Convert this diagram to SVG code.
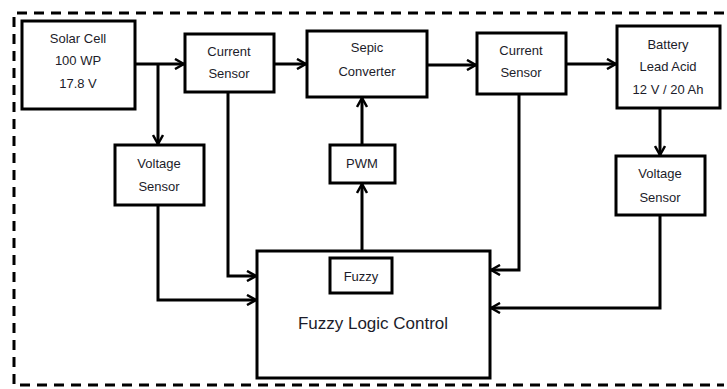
<svg xmlns="http://www.w3.org/2000/svg" width="727" height="389" viewBox="0 0 727 389">
  <defs>
    <style>
      .box { fill: #fff; stroke: #000; stroke-width: 3; }
      .lbl { font-family: "Liberation Sans", Arial, sans-serif; font-size: 13px; fill: #1c1c2a; text-anchor: middle; dominant-baseline: central; }
      .big { font-size: 17px; }
      .wire { fill: none; stroke: #000; stroke-width: 3; }
      .frame { fill: none; stroke: #000; stroke-width: 3; stroke-dasharray: 10 7; }
    </style>
    <marker id="arrow" viewBox="0 0 12 12" refX="11" refY="6" markerWidth="12" markerHeight="12" markerUnits="userSpaceOnUse" orient="auto">
      <path d="M2,1 L11,6 L2,11" fill="none" stroke="#000" stroke-width="2.5"/>
    </marker>
  </defs>

  <rect width="727" height="389" fill="#fff"/>

  <!-- dashed system boundary -->
  <path class="frame" d="M724,13 H14 V385 H724"/>

  <g id="connectors">
    <path class="wire" d="M135,64 H184" marker-end="url(#arrow)"/>
    <path class="wire" d="M158,64 V144" marker-end="url(#arrow)"/>
    <path class="wire" d="M274,64 H306" marker-end="url(#arrow)"/>
    <path class="wire" d="M427,65 H476" marker-end="url(#arrow)"/>
    <path class="wire" d="M566,64 H616" marker-end="url(#arrow)"/>
    <path class="wire" d="M660,108 V155" marker-end="url(#arrow)"/>
    <path class="wire" d="M228,92 V276 H256" marker-end="url(#arrow)"/>
    <path class="wire" d="M158,205 V300 H256" marker-end="url(#arrow)"/>
    <path class="wire" d="M519,94 V270 H491" marker-end="url(#arrow)"/>
    <path class="wire" d="M660,215 V308 H491" marker-end="url(#arrow)"/>
    <path class="wire" d="M362,251 V184" marker-end="url(#arrow)"/>
    <path class="wire" d="M362,145 V98" marker-end="url(#arrow)"/>
  </g>

  <g id="solar-cell">
    <rect class="box" x="22" y="21" width="113" height="88"/>
    <text class="lbl" x="78" y="38">Solar Cell</text>
    <text class="lbl" x="78" y="60">100 WP</text>
    <text class="lbl" x="78" y="83">17.8 V</text>
  </g>

  <g id="current-sensor-1">
    <rect class="box" x="185" y="34" width="89" height="58"/>
    <text class="lbl" x="229" y="51">Current</text>
    <text class="lbl" x="229" y="73">Sensor</text>
  </g>

  <g id="voltage-sensor-1">
    <rect class="box" x="115" y="145" width="89" height="60"/>
    <text class="lbl" x="159" y="163">Voltage</text>
    <text class="lbl" x="159" y="186">Sensor</text>
  </g>

  <g id="sepic-converter">
    <rect class="box" x="307" y="31" width="120" height="66"/>
    <text class="lbl" x="367" y="47">Sepic</text>
    <text class="lbl" x="367" y="71">Converter</text>
  </g>

  <g id="pwm">
    <rect class="box" x="330" y="145" width="65" height="38"/>
    <text class="lbl" x="362" y="163">PWM</text>
  </g>

  <g id="current-sensor-2">
    <rect class="box" x="477" y="33" width="89" height="61"/>
    <text class="lbl" x="521" y="50">Current</text>
    <text class="lbl" x="521" y="72">Sensor</text>
  </g>

  <g id="battery">
    <rect class="box" x="617" y="26" width="103" height="82"/>
    <text class="lbl" x="668" y="44">Battery</text>
    <text class="lbl" x="668" y="66">Lead Acid</text>
    <text class="lbl" x="668" y="89">12 V / 20 Ah</text>
  </g>

  <g id="voltage-sensor-2">
    <rect class="box" x="616" y="156" width="89" height="59"/>
    <text class="lbl" x="660" y="173">Voltage</text>
    <text class="lbl" x="660" y="197">Sensor</text>
  </g>

  <g id="fuzzy-logic-control">
    <rect class="box" x="257" y="251" width="233" height="127"/>
    <rect class="box" x="330" y="258" width="62" height="35"/>
    <text class="lbl" x="361" y="276">Fuzzy</text>
    <text class="lbl big" x="373" y="323">Fuzzy Logic Control</text>
  </g>
</svg>
